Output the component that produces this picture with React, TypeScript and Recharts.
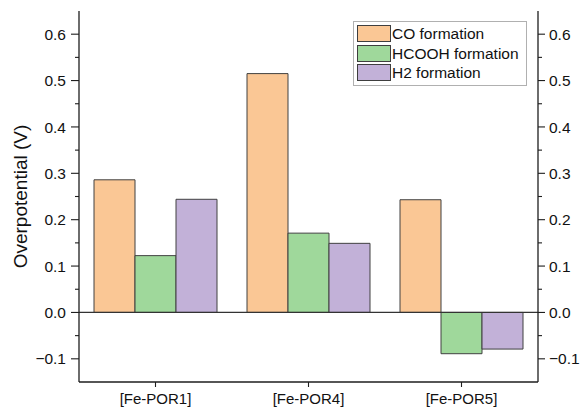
import React from 'react';
import { BarChart, Bar, XAxis, YAxis, ReferenceLine, Legend } from 'recharts';

const categories = ['[Fe-POR1]', '[Fe-POR4]', '[Fe-POR5]'];
const coFormation = [0.286, 0.515, 0.243];
const hcoohFormation = [0.1225, 0.171, -0.089];
const h2Formation = [0.244, 0.149, -0.079];
const seriesNames = ['CO formation', 'HCOOH formation', 'H2 formation'];
const seriesKeys = ['co', 'hcooh', 'h2'];
const seriesColors = ['#FAC795', '#9FD89B', '#C2B1D8'];
const majorTicks = [-0.1, 0, 0.1, 0.2, 0.3, 0.4, 0.5, 0.6];
const minorTicks = [-0.05, 0.05, 0.15, 0.25, 0.35, 0.45, 0.55];
const yDomain: [number, number] = [-0.15, 0.65];
const yLabel = 'Overpotential (V)';

const data = categories.map((c, i) => ({
  name: c,
  co: coFormation[i],
  hcooh: hcoohFormation[i],
  h2: h2Formation[i],
}));

const allTicks = [...majorTicks, ...minorTicks].sort((a, b) => a - b);
const FONT = '"Liberation Sans", Arial, Helvetica, sans-serif';
const AXIS = '#1e1e1e';
const TS = 7;
const TM = 3;

const isMajor = (v: number) => majorTicks.some((m) => Math.abs(m - v) < 1e-6);
const fmt = (v: number) => (v < 0 ? '\u2212' + Math.abs(v).toFixed(1) : v.toFixed(1));

const LeftTick = (props: any) => {
  const { x, y, payload } = props;
  const v = payload.value;
  const major = isMajor(v);
  const ax = x + TS + TM;
  return (
    <g>
      <line x1={ax - (major ? 8 : 4)} x2={ax} y1={y} y2={y} stroke={AXIS} strokeWidth={1.1} />
      {major && (
        <text x={ax - 13} y={y} dy="0.36em" textAnchor="end" fontSize={15.5} fontFamily={FONT} fill="#111">
          {fmt(v)}
        </text>
      )}
    </g>
  );
};

const RightTick = (props: any) => {
  const { x, y, payload } = props;
  const v = payload.value;
  const major = isMajor(v);
  const ax = x - TS - TM;
  return (
    <g>
      <line x1={ax} x2={ax + (major ? 7 : 4)} y1={y} y2={y} stroke={AXIS} strokeWidth={1.1} />
      {major && (
        <text x={ax + 11} y={y} dy="0.36em" textAnchor="start" fontSize={15.5} fontFamily={FONT} fill="#111">
          {fmt(v)}
        </text>
      )}
    </g>
  );
};

const LegendBox = () => (
  <div
    style={{
      border: '1px solid #b0b0b0',
      background: '#fff',
      padding: '2px 6px 2px 3px',
      fontFamily: FONT,
      fontSize: 15.5,
      color: '#111',
      boxSizing: 'border-box',
      width: 174,
    }}
  >
    {seriesNames.map((n, i) => (
      <div key={n} style={{ display: 'flex', alignItems: 'center', height: 19.5 }}>
        <div
          style={{
            width: 34,
            height: 17,
            background: seriesColors[i],
            border: '1px solid #3e3e3e',
            boxSizing: 'border-box',
            marginRight: 1,
          }}
        />
        <span style={{ lineHeight: '19px' }}>{n}</span>
      </div>
    ))}
  </div>
);

const YLabel = (props: any) => {
  const { viewBox } = props;
  const cx = 20;
  const cy = viewBox.y + viewBox.height / 2;
  return (
    <text
      x={cx}
      y={cy}
      transform={`rotate(-90, ${cx}, ${cy})`}
      textAnchor="middle"
      dominantBaseline="central"
      fontSize={19}
      fontFamily={FONT}
      fill="#111"
    >
      {yLabel}
    </text>
  );
};

export default function App() {
  return (
    <div style={{ position: 'absolute', left: 0, top: 0, width: 582, height: 411, background: '#fff' }}>
      <BarChart
        width={582}
        height={411}
        data={data}
        margin={{ top: 11, right: 0, bottom: 0, left: 0 }}
        barCategoryGap={15}
        barGap={0}
      >
        <XAxis
          dataKey="name"
          xAxisId={0}
          height={29}
          tickSize={5}
          tickMargin={6}
          axisLine={{ stroke: AXIS, strokeWidth: 1.3 }}
          tickLine={{ stroke: AXIS, strokeWidth: 1.1 }}
          tick={{ fontSize: 15, fontFamily: FONT, fill: '#111' }}
        />
        <XAxis
          dataKey="name"
          xAxisId="top"
          orientation="top"
          height={0}
          tick={false}
          tickLine={false}
          axisLine={{ stroke: AXIS, strokeWidth: 1.3 }}
        />
        <YAxis
          yAxisId={0}
          type="number"
          domain={yDomain}
          ticks={allTicks}
          interval={0}
          width={79}
          tickSize={TS}
          tickMargin={TM}
          tickLine={false}
          tick={<LeftTick />}
          axisLine={{ stroke: AXIS, strokeWidth: 1.3 }}
          allowDataOverflow
          label={<YLabel />}
        />
        <YAxis
          yAxisId="right"
          orientation="right"
          type="number"
          domain={yDomain}
          ticks={allTicks}
          interval={0}
          width={44}
          tickSize={TS}
          tickMargin={TM}
          tickLine={false}
          tick={<RightTick />}
          axisLine={{ stroke: AXIS, strokeWidth: 1.3 }}
          allowDataOverflow
        />
        <ReferenceLine y={0} yAxisId={0} stroke="#333" strokeWidth={1.2} />
        {seriesKeys.map((k, i) => (
          <Bar
            key={k}
            dataKey={k}
            name={seriesNames[i]}
            fill={seriesColors[i]}
            stroke="#404040"
            strokeWidth={1}
            isAnimationActive={false}
          />
        ))}
        <Legend
          layout="vertical"
          verticalAlign="middle"
          align="center"
          content={<LegendBox />}
          wrapperStyle={{ position: 'absolute', left: 353, top: 21, width: 174, height: 'auto' }}
        />
      </BarChart>
    </div>
  );
}
